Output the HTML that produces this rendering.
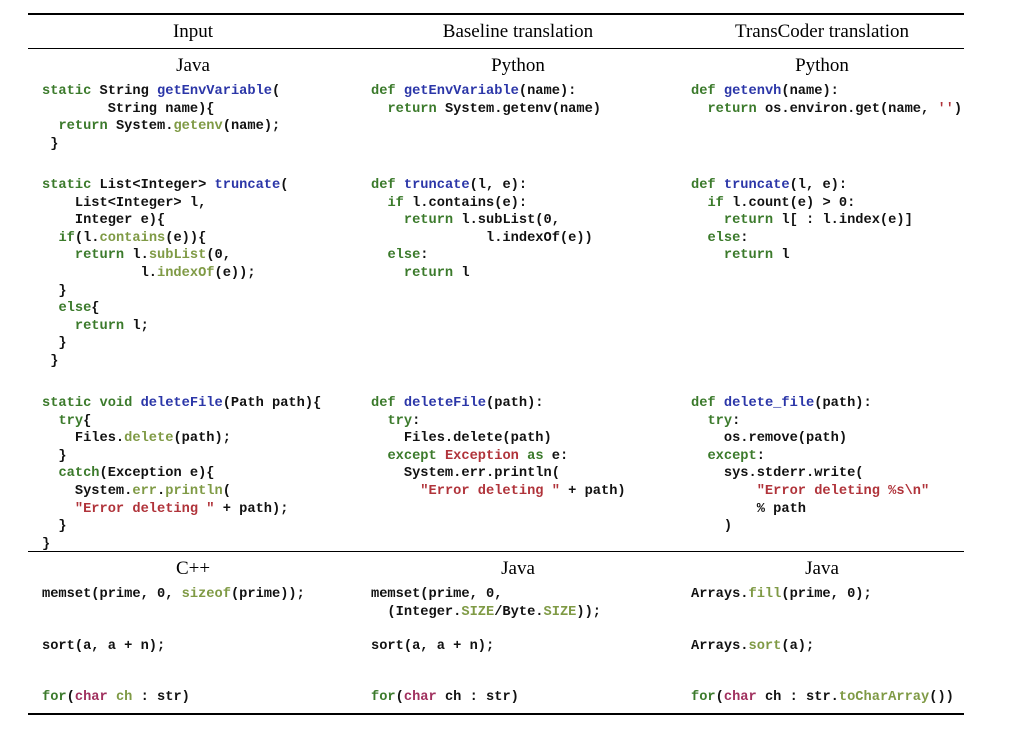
<!DOCTYPE html>
<html><head><meta charset="utf-8"><style>
body{margin:0;width:1022px;height:729px;background:#fff;position:relative;overflow:hidden}
.hl{position:absolute;left:28px;width:936px;background:#000}
.h{position:absolute;font-family:"Liberation Serif",serif;font-size:19px;color:#000;transform:translateX(-50%);white-space:nowrap;line-height:22px}
pre{position:absolute;margin:0;font-family:"Liberation Mono",monospace;font-size:13.7px;line-height:17.6px;color:#111;font-weight:bold;letter-spacing:0}
.k{color:#3b7a2b}.f{color:#2b36a8}.m{color:#7f9a45}.s{color:#b0333a}.c{color:#a0305e}.g{color:#888}
</style></head><body>
<div class="hl" style="top:13px;height:2px"></div>
<div class="hl" style="top:48px;height:1px"></div>
<div class="hl" style="top:551px;height:1px"></div>
<div class="hl" style="top:713px;height:2px"></div>

<div class="h" style="left:193px;top:21px">Input</div>
<div class="h" style="left:518px;top:21px">Baseline translation</div>
<div class="h" style="left:822px;top:21px">TransCoder translation</div>
<div class="h" style="left:193px;top:55px">Java</div>
<div class="h" style="left:518px;top:55px">Python</div>
<div class="h" style="left:822px;top:55px">Python</div>
<div class="h" style="left:193px;top:558px">C++</div>
<div class="h" style="left:518px;top:558px">Java</div>
<div class="h" style="left:822px;top:558px">Java</div>

<pre style="left:42px;top:83px"><span class="k">static</span> String <span class="f">getEnvVariable</span>(
        String name){
  <span class="k">return</span> System.<span class="m">getenv</span>(name);
 }</pre>
<pre style="left:42px;top:177px"><span class="k">static</span> List&lt;Integer&gt; <span class="f">truncate</span>(
    List&lt;Integer&gt; l,
    Integer e){
  <span class="k">if</span>(l.<span class="m">contains</span>(e)){
    <span class="k">return</span> l.<span class="m">subList</span>(0,
            l.<span class="m">indexOf</span>(e));
  }
  <span class="k">else</span>{
    <span class="k">return</span> l;
  }
 }</pre>
<pre style="left:42px;top:395px"><span class="k">static void</span> <span class="f">deleteFile</span>(Path path){
  <span class="k">try</span>{
    Files.<span class="m">delete</span>(path);
  }
  <span class="k">catch</span>(Exception e){
    System.<span class="m">err</span>.<span class="m">println</span>(
    <span class="s">"Error deleting "</span> + path);
  }
}</pre>

<pre style="left:371px;top:83px"><span class="k">def</span> <span class="f">getEnvVariable</span>(name):
  <span class="k">return</span> System.getenv(name)</pre>
<pre style="left:371px;top:177px"><span class="k">def</span> <span class="f">truncate</span>(l, e):
  <span class="k">if</span> l.contains(e):
    <span class="k">return</span> l.subList(0,
              l.indexOf(e))
  <span class="k">else</span>:
    <span class="k">return</span> l</pre>
<pre style="left:371px;top:395px"><span class="k">def</span> <span class="f">deleteFile</span>(path):
  <span class="k">try</span>:
    Files.delete(path)
  <span class="k">except</span> <span class="s">Exception</span> <span class="k">as</span> e:
    System.err.println(
      <span class="s">"Error deleting "</span> + path)</pre>

<pre style="left:691px;top:83px"><span class="k">def</span> <span class="f">getenvh</span>(name):
  <span class="k">return</span> os.environ.get(name, <span class="s">''</span>)</pre>
<pre style="left:691px;top:177px"><span class="k">def</span> <span class="f">truncate</span>(l, e):
  <span class="k">if</span> l.count(e) &gt; 0:
    <span class="k">return</span> l[ : l.index(e)]
  <span class="k">else</span>:
    <span class="k">return</span> l</pre>
<pre style="left:691px;top:395px"><span class="k">def</span> <span class="f">delete_file</span>(path):
  <span class="k">try</span>:
    os.remove(path)
  <span class="k">except</span>:
    sys.stderr.write(
        <span class="s">"Error deleting %s\n"</span>
        % path
    )</pre>

<pre style="left:42px;top:586px">memset(prime, 0, <span class="m">sizeof</span>(prime));</pre>
<pre style="left:42px;top:638px">sort(a, a + n);</pre>
<pre style="left:42px;top:689px"><span class="k">for</span>(<span class="c">char</span> <span class="m">ch</span> : str)</pre>

<pre style="left:371px;top:586px">memset(prime, 0,
  (Integer.<span class="m">SIZE</span>/Byte.<span class="m">SIZE</span>));</pre>
<pre style="left:371px;top:638px">sort(a, a + n);</pre>
<pre style="left:371px;top:689px"><span class="k">for</span>(<span class="c">char</span> ch : str)</pre>

<pre style="left:691px;top:586px">Arrays.<span class="m">fill</span>(prime, 0);</pre>
<pre style="left:691px;top:638px">Arrays.<span class="m">sort</span>(a);</pre>
<pre style="left:691px;top:689px"><span class="k">for</span>(<span class="c">char</span> ch : str.<span class="m">toCharArray</span>())</pre>
</body></html>
